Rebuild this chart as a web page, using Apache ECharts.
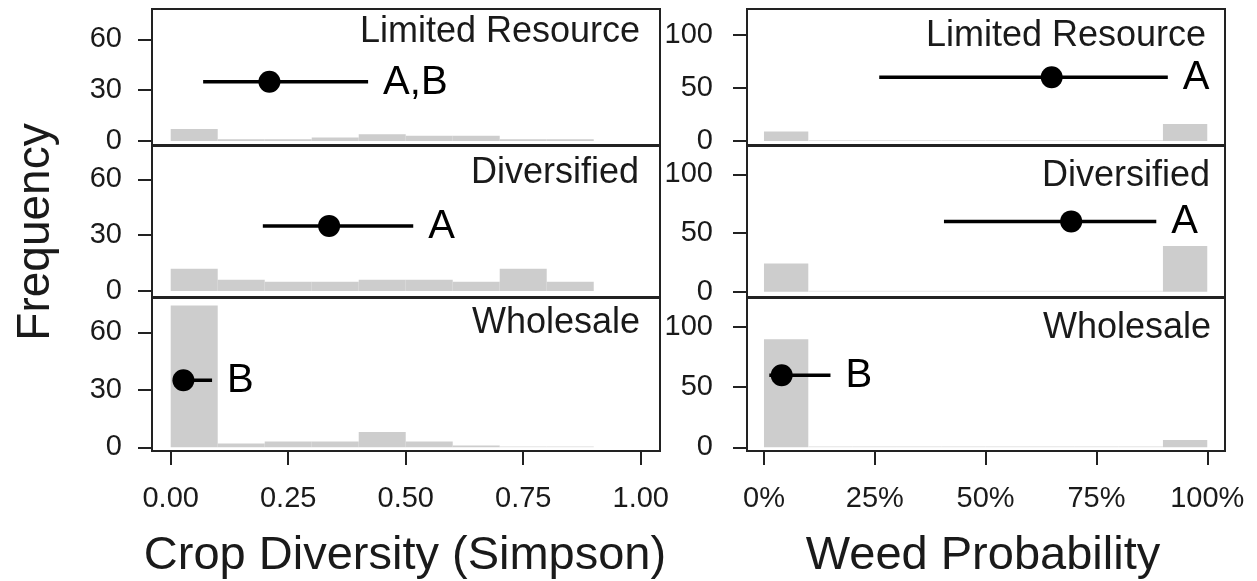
<!DOCTYPE html>
<html>
<head>
<meta charset="utf-8">
<script src="https://cdn.jsdelivr.net/npm/echarts@6/dist/echarts.min.js"></script>
<style>
  html, body { margin: 0; padding: 0; background: #fff; }
  #chart { width: 1257px; height: 581px; }
</style>
</head>
<body>
<div id="chart"></div>
<script>
// ---- data ----
const farmTypes = ['Limited Resource', 'Diversified', 'Wholesale'];

// Crop diversity (Simpson) histogram, bins of width 0.1 starting at 0
const diversityBinStart = [0, 0.1, 0.2, 0.3, 0.4, 0.5, 0.6, 0.7, 0.8];
const diversityLimited = [7, 1, 1, 2, 4, 3, 3, 1, 1];
const diversityDiversified = [12, 6, 5, 5, 6, 6, 5, 12, 5];
const diversityWholesale = [74, 2, 3, 3, 8, 3, 1, 0, 0];

// Weed probability histogram, bins of width 0.1 starting at 0
const weedBinStart = [0, 0.1, 0.2, 0.3, 0.4, 0.5, 0.6, 0.7, 0.8, 0.9];
const weedLimited = [9, 0, 0, 0, 0, 0, 0, 0, 0, 16];
const weedDiversified = [24, 0, 0, 0, 0, 0, 0, 0, 0, 39];
const weedWholesale = [90, 0, 0, 0, 0, 0, 0, 0, 0, 6];

// Model estimates with intervals and group letters
const diversityMean = [0.21, 0.337, 0.027];
const diversityLow = [0.069, 0.196, 0.005];
const diversityHigh = [0.42, 0.516, 0.088];
const diversityLetters = ['A,B', 'A', 'B'];

const weedMean = [0.649, 0.693, 0.04];
const weedLow = [0.26, 0.406, 0.012];
const weedHigh = [0.911, 0.885, 0.15];
const weedLetters = ['A', 'A', 'B'];

// Tick values
const diversityTicks = [0, 0.25, 0.5, 0.75, 1];
const weedTicks = [0, 0.25, 0.5, 0.75, 1];
const diversityCountTicks = [0, 30, 60];
const weedCountTicks = [0, 50, 100];

const BIN_WIDTH = 0.1;

// ---- layout ----
const FONT = '"Liberation Sans", Arial, Helvetica, sans-serif';
const INK = '#1a1a1a';
const BAR = '#cdcdcd';
const rows = [{ top: 9, height: 136 }, { top: 146, height: 151 }, { top: 298, height: 153 }];
const cols = [{ left: 152, width: 508 }, { left: 747, width: 478 }];
const leftYMin = [-2.4, -3.2, -1.9];
const rightYMin = [-3.8, -4.5, -3.1];
const estimateY = [35, 60];

const diversityByRow = [diversityLimited, diversityDiversified, diversityWholesale];
const weedByRow = [weedLimited, weedDiversified, weedWholesale];

const grids = [], xAxes = [], yAxes = [], series = [];

// histogram bar: [binStart, binEnd, count]
function histRender(params, api) {
  const x0 = api.value(0), x1 = api.value(1), c = api.value(2);
  const p0 = api.coord([x0, c]);
  const p1 = api.coord([x1, 0]);
  if (c <= 0) {
    return { type: 'rect', shape: { x: p0[0], y: p1[1] - 1, width: p1[0] - p0[0], height: 1 },
             style: { fill: '#e4e4e4' } };
  }
  return { type: 'rect', shape: { x: p0[0], y: p0[1], width: p1[0] - p0[0], height: p1[1] - p0[1] },
           style: { fill: BAR } };
}

// point estimate with interval and letter: [mean, low, high, y]
function estimateRender(letter) {
  return function (params, api) {
    const m = api.value(0), l = api.value(1), h = api.value(2), y = api.value(3);
    const pl = api.coord([l, y]), ph = api.coord([h, y]), pm = api.coord([m, y]);
    return {
      type: 'group',
      children: [
        { type: 'line', shape: { x1: pl[0], y1: pl[1], x2: ph[0], y2: ph[1] },
          style: { stroke: '#000', lineWidth: 3.5 } },
        { type: 'circle', shape: { cx: pm[0], cy: pm[1], r: 11 }, style: { fill: '#000' } },
        { type: 'text', x: ph[0] + 15, y: ph[1] + 1,
          style: { text: letter, fill: '#000', font: '40px ' + FONT,
                   textAlign: 'left', textVerticalAlign: 'middle' } }
      ]
    };
  };
}

for (let c = 0; c < 2; c++) {
  for (let r = 0; r < 3; r++) {
    const gi = c * 3 + r;
    const isBottom = r === 2;
    grids.push({ left: cols[c].left, top: rows[r].top, width: cols[c].width, height: rows[r].height,
                 show: true, borderColor: '#222', borderWidth: 2, backgroundColor: 'transparent' });
    const ticks = c === 0 ? diversityTicks : weedTicks;
    xAxes.push({
      type: 'value', gridIndex: gi,
      min: c === 0 ? -0.0398 : -0.0383, max: c === 0 ? 1.041 : 1.040,
      axisLine: { show: false, onZero: false },
      splitLine: { show: false },
      axisTick: { show: isBottom, customValues: ticks, length: 14, lineStyle: { color: '#222', width: 2 } },
      axisLabel: {
        show: isBottom, customValues: ticks, margin: 33, color: INK, fontFamily: FONT, fontSize: 29,
        formatter: c === 0 ? (v => v.toFixed(2)) : (v => Math.round(v * 100) + '%')
      }
    });
    const yTicks = c === 0 ? diversityCountTicks : weedCountTicks;
    yAxes.push({
      type: 'value', gridIndex: gi,
      min: c === 0 ? leftYMin[r] : rightYMin[r], max: c === 0 ? 77.9 : 124.3,
      axisLine: { show: false, onZero: false },
      splitLine: { show: false },
      axisTick: { show: true, customValues: yTicks, length: 14, lineStyle: { color: '#222', width: 2 } },
      axisLabel: { show: true, customValues: yTicks, margin: c === 0 ? 30 : 34, color: INK,
                   fontFamily: FONT, fontSize: 29 }
    });

    const counts = c === 0 ? diversityByRow[r] : weedByRow[r];
    const starts = c === 0 ? diversityBinStart : weedBinStart;
    series.push({
      type: 'custom', xAxisIndex: gi, yAxisIndex: gi, silent: true,
      data: starts.map((s, i) => [s, s + BIN_WIDTH, counts[i]]),
      renderItem: histRender
    });
  }
}

// estimate series (one per panel)
for (let c = 0; c < 2; c++) {
  for (let r = 0; r < 3; r++) {
    const gi = c * 3 + r;
    const mean = c === 0 ? diversityMean : weedMean;
    const lo = c === 0 ? diversityLow : weedLow;
    const hi = c === 0 ? diversityHigh : weedHigh;
    const letters = c === 0 ? diversityLetters : weedLetters;
    series.push({
      type: 'custom', xAxisIndex: gi, yAxisIndex: gi, silent: true, z: 5,
      data: [[mean[r], lo[r], hi[r], estimateY[c]]],
      renderItem: estimateRender(letters[r])
    });
  }
}

// facet strip labels and axis titles
const facetPos = [
  [[640, 32], [639, 173], [640, 323]],
  [[1206, 36], [1210, 176], [1211, 328]]
];
const graphic = [];
for (let c = 0; c < 2; c++) {
  for (let r = 0; r < 3; r++) {
    graphic.push({ type: 'text', x: facetPos[c][r][0], y: facetPos[c][r][1], z: 10,
      style: { text: farmTypes[r], fill: INK, font: '36px ' + FONT, textAlign: 'right', textVerticalAlign: 'middle' } });
  }
}
graphic.push({ type: 'text', x: 405, y: 556,
  style: { text: 'Crop Diversity (Simpson)', fill: INK, font: '47px ' + FONT, textAlign: 'center', textVerticalAlign: 'middle' } });
graphic.push({ type: 'text', x: 983, y: 556,
  style: { text: 'Weed Probability', fill: INK, font: '47px ' + FONT, textAlign: 'center', textVerticalAlign: 'middle' } });
graphic.push({ type: 'text', x: 36, y: 232, rotation: Math.PI / 2,
  style: { text: 'Frequency', fill: INK, font: '46px ' + FONT, textAlign: 'center', textVerticalAlign: 'middle' } });

const chart = echarts.init(document.getElementById('chart'), null, { renderer: 'canvas' });
chart.setOption({
  animation: false,
  backgroundColor: '#fff',
  grid: grids,
  xAxis: xAxes,
  yAxis: yAxes,
  series: series,
  graphic: graphic
});
</script>
</body>
</html>
